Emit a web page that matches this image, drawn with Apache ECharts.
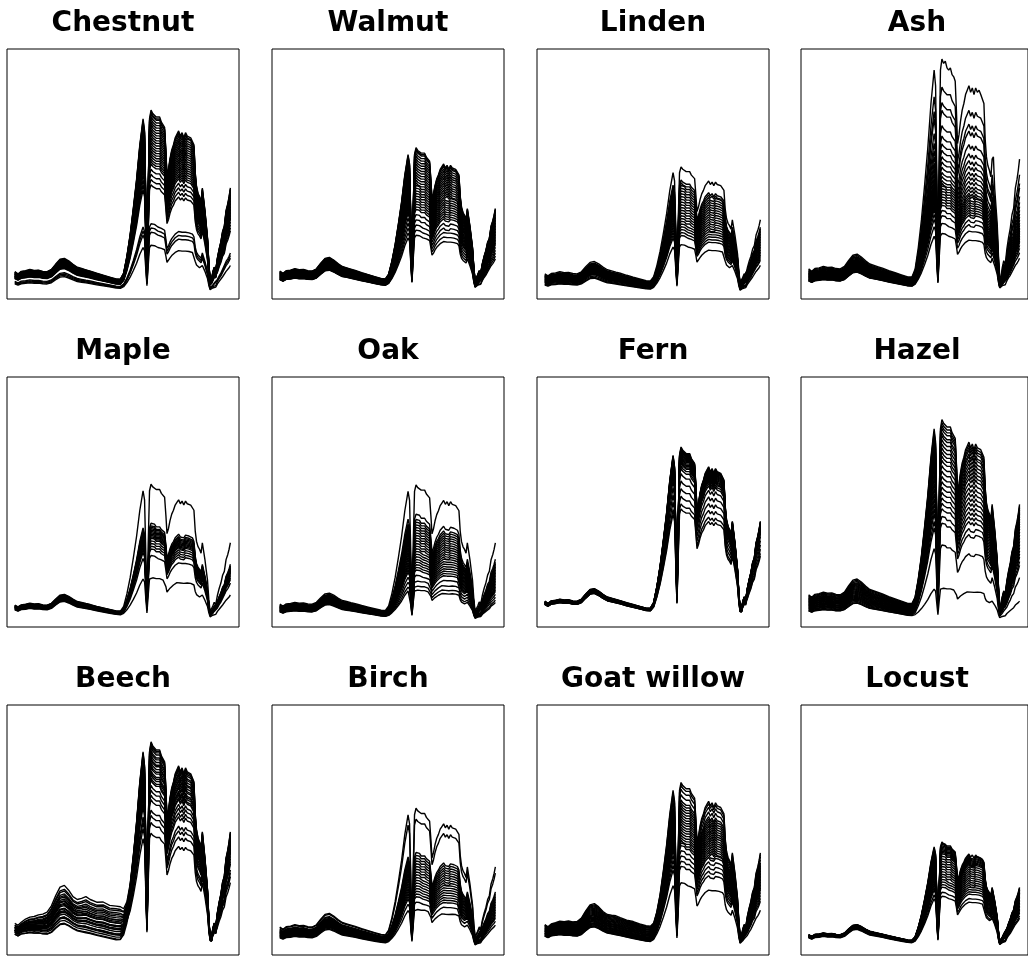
<!DOCTYPE html>
<html>
<head>
<meta charset="utf-8">
<script src="https://cdn.jsdelivr.net/npm/echarts@6/dist/echarts.min.js"></script>
<style>
  html, body { margin: 0; padding: 0; background: #fff; }
  #chart { width: 1028px; height: 956px; }
</style>
</head>
<body>
<div id="chart"></div>
<script>
// sampling positions along the spectrum (0 = first band, 100 = last band)
var wave = [0, 1.5, 3, 5, 7, 9, 11, 13, 15, 17,
  19, 21, 23, 25, 27, 29, 31, 33, 35, 38,
  41, 44, 47, 49, 50.5, 52, 53.5, 55, 56.5, 58,
  59.5, 60.2, 60.8, 61.3, 61.9, 62.5, 63.2, 64, 64.8, 65.6,
  66.4, 67.2, 68, 68.8, 69.5, 70.1, 70.6, 71.3, 72, 72.8,
  73.6, 74.4, 75.2, 76, 76.8, 77.6, 78.4, 79.2, 80, 80.8,
  81.6, 82.4, 83.1, 83.7, 84.3, 85, 85.7, 86.4, 87, 87.6,
  88.2, 88.8, 89.4, 90, 90.6, 91.2, 91.8, 92.5, 93.2, 94,
  94.8, 95.6, 96.4, 97.2, 98, 98.8, 99.4, 100];
// visible part of a typical leaf (box %)
var visShape = [8.6, 7.9, 8.7, 8.9, 9.3, 9.0, 9.1, 8.7, 8.6, 9.3,
  11.0, 12.5, 12.8, 12.0, 10.9, 10.0, 9.6, 9.2, 8.8, 8.1,
  7.5, 6.9, 6.3, 6.0, 6.0, 5.8, 5.5, 5.2, 5, 5,
  5, 5, 5, 5, 5, 5, 5, 5, 5, 5,
  5, 5, 5, 5, 5, 5, 5, 5, 5, 5,
  5, 5, 5, 5, 5, 5, 5, 5, 5, 5,
  5, 5, 5, 5, 5, 5, 5, 5, 5, 5,
  5, 5, 5, 4.8, 4.5, 4.3, 4.5, 4.6, 4.7, 4.8,
  4.9, 5, 5, 5, 5, 5, 5, 5];
// extra lift of the visible plateau (Beech, Goat willow)
var liftShape = [0.2, 0.2, 0.22, 0.28, 0.3, 0.33, 0.36, 0.4, 0.45, 0.55,
  0.68, 0.78, 0.8, 0.74, 0.66, 0.65, 0.7, 0.76, 0.72, 0.7,
  0.74, 0.7, 0.72, 0.7, 0.5, 0.22, 0.05, 0, 0, 0,
  0, 0, 0, 0, 0, 0, 0, 0, 0, 0,
  0, 0, 0, 0, 0, 0, 0, 0, 0, 0,
  0, 0, 0, 0, 0, 0, 0, 0, 0, 0,
  0, 0, 0, 0, 0, 0, 0, 0, 0, 0,
  0, 0, 0, 0, 0, 0, 0, 0, 0, 0,
  0, 0, 0, 0, 0, 0, 0, 0];
// near-infrared shape, 1 at the main peak
var nirShape = [0, 0, 0, 0, 0, 0, 0, 0, 0, 0,
  0, 0, 0, 0, 0, 0, 0, 0, 0, 0,
  0, 0, 0, 0.005, 0.04, 0.14, 0.27, 0.43, 0.6, 0.8,
  0.95, 0.88, 0.45, 0.1, 0.55, 0.95, 1.0, 0.98, 0.99, 0.96,
  0.95, 0.96, 0.93, 0.92, 0.9, 0.76, 0.62, 0.66, 0.72, 0.77,
  0.8, 0.84, 0.86, 0.88, 0.85, 0.87, 0.84, 0.87, 0.85, 0.86,
  0.84, 0.84, 0.8, 0.64, 0.56, 0.52, 0.5, 0.47, 0.55, 0.56,
  0.42, 0.34, 0.26, 0.12, 0.03, 0.02, 0.07, 0.1, 0.08, 0.15,
  0.2, 0.24, 0.3, 0.33, 0.42, 0.46, 0.5, 0.55];

var titles = ['Chestnut', 'Walmut', 'Linden', 'Ash', 'Maple', 'Oak',
  'Fern', 'Hazel', 'Beech', 'Birch', 'Goat willow', 'Locust'];

// per leaf: NIR peak height (box %) and visible level
var chestnutPeak = [74.2, 73.5, 73, 72, 71, 70, 69, 68, 67, 66, 65, 64, 63, 62, 61, 60, 59, 58, 57, 56, 55, 54, 52, 50, 48, 46, 31, 29.5, 28, 23];
var chestnutVis = [1.27, 1.25, 1.24, 1.22, 1.2, 1.19, 1.18, 1.16, 1.15, 1.14, 1.13, 1.12, 1.1, 1.09, 1.08, 1.07, 1.06, 1.05, 1.04, 1.02, 1.01, 1.0, 0.99, 0.98, 0.97, 0.95, 0.82, 0.78, 0.74, 0.7];
var walmutPeak = [59, 58.5, 58, 57, 56, 55, 54, 53, 52, 51, 50, 49, 48, 47, 46, 45, 44, 43, 42, 41, 40, 39, 38, 37, 36, 34, 32, 30, 28, 26];
var walmutVis = [1.3, 1.28, 1.27, 1.25, 1.24, 1.22, 1.21, 1.2, 1.18, 1.17, 1.15, 1.14, 1.12, 1.11, 1.1, 1.08, 1.07, 1.05, 1.04, 1.03, 1.01, 1.0, 0.99, 0.97, 0.96, 0.95, 0.93, 0.92, 0.91, 0.9];
var lindenPeak = [52, 47, 46, 45, 44, 43, 42, 41, 40, 39, 38, 37, 36, 35, 34, 33, 32, 31, 30, 29, 28, 27, 23.5];
var lindenVis = [1.17, 1.12, 1.1, 1.08, 1.06, 1.04, 1.02, 1.0, 0.98, 0.96, 0.94, 0.92, 0.9, 0.88, 0.86, 0.84, 0.82, 0.8, 0.78, 0.76, 0.72, 0.68, 0.65];
var ashPeak = [94, 83, 77, 74, 68, 64, 61, 58.5, 56, 54, 52, 50, 48.5, 47, 46, 45, 44, 43, 42, 41, 40, 39, 38, 36, 34, 31, 27];
var ashVis = [1.4, 1.36, 1.32, 1.3, 1.27, 1.24, 1.22, 1.2, 1.18, 1.16, 1.14, 1.12, 1.1, 1.08, 1.06, 1.04, 1.02, 1.0, 0.98, 0.96, 0.94, 0.92, 0.9, 0.88, 0.86, 0.85, 0.84];
var maplePeak = [57, 41.5, 40.5, 40, 39.5, 39, 38.5, 38, 37.5, 37, 36.5, 36, 35, 34, 33, 32, 29.5, 21];
var mapleVis = [1.02, 1.0, 0.99, 0.98, 0.97, 0.96, 0.95, 0.94, 0.93, 0.92, 0.91, 0.9, 0.89, 0.88, 0.86, 0.84, 0.82, 0.8];
var oakPeak = [56.5, 45, 43, 42, 41, 40, 39, 38, 37, 36, 35, 34, 33, 32, 31, 30, 29, 28, 27, 26, 25, 24, 22, 20, 18, 16.5];
var oakVis = [1.06, 1.02, 1.0, 0.99, 0.97, 0.96, 0.95, 0.93, 0.92, 0.91, 0.9, 0.88, 0.87, 0.86, 0.85, 0.83, 0.82, 0.8, 0.79, 0.78, 0.77, 0.76, 0.74, 0.73, 0.72, 0.7];
var fernPeak = [71, 70.7, 70.4, 70, 69.6, 69.2, 68.8, 68.4, 68, 67.5, 67, 66.5, 66, 65.5, 65, 64, 63, 61, 58, 55, 52, 49, 47];
var fernVis = [1.2, 1.19, 1.18, 1.18, 1.17, 1.16, 1.16, 1.15, 1.14, 1.14, 1.13, 1.12, 1.12, 1.11, 1.1, 1.1, 1.09, 1.08, 1.08, 1.07, 1.06, 1.05, 1.05];
var hazelPeak = [80.5, 79.5, 78.5, 77.5, 76, 75, 73.5, 72, 70.5, 69, 67.5, 66, 64, 62, 60, 58, 56, 54, 52, 50, 48, 45, 42.5, 34, 17];
var hazelVis = [1.5, 1.46, 1.42, 1.38, 1.35, 1.32, 1.29, 1.26, 1.23, 1.2, 1.17, 1.14, 1.11, 1.08, 1.05, 1.02, 0.99, 0.96, 0.93, 0.9, 0.87, 0.84, 0.8, 0.76, 0.75];
var beechPeak = [85, 84.5, 84, 83, 82, 81, 80, 79, 78, 77, 76, 75, 74, 73, 72, 71, 70, 68, 66, 64, 62, 58, 56, 53, 49];
var beechVis = [1.05, 1.04, 1.0, 1.03, 0.98, 1.02, 1.0, 0.97, 1.04, 1.01, 0.99, 1.03, 0.96, 1.0, 1.02, 0.98, 1.01, 0.97, 1.0, 0.99, 1.03, 0.98, 0.96, 1.0, 0.95];
var beechLift = [18, 5, 16, 2.5, 14, 9, 12, 0, 10.5, 7, 17, 4, 8, 13, 1, 11, 6, 15, 3, 10, 2, 7.5, 0.5, 5.5, 9.5];
var birchPeak = [57.2, 53, 40, 39, 38, 37, 36, 35, 34, 33, 32, 31, 30, 29, 28, 27, 26, 25, 24, 22, 19.5];
var birchVis = [1.3, 1.27, 1.2, 1.17, 1.14, 1.12, 1.1, 1.08, 1.06, 1.04, 1.02, 1.0, 0.98, 0.96, 0.94, 0.92, 0.9, 0.88, 0.86, 0.83, 0.8];
var willowPeak = [67.5, 66.5, 65, 63, 61, 60, 59, 58, 57, 56, 55, 54, 53, 52, 51, 50, 49, 48, 47, 46, 45, 44, 42, 40, 38, 36, 29.5];
var willowVis = [1.3, 1.28, 1.26, 1.24, 1.22, 1.2, 1.18, 1.16, 1.14, 1.12, 1.1, 1.09, 1.08, 1.06, 1.05, 1.04, 1.02, 1.0, 0.99, 0.98, 0.96, 0.95, 0.94, 0.92, 0.9, 0.89, 0.88];
var willowLift = [4.9, 4.6, 4.4, 4.2, 4, 3.8, 3.6, 3.4, 3.2, 3, 2.8, 2.6, 2.4, 2.2, 2, 1.8, 1.6, 1.4, 1.2, 1, 0.8, 0.6, 0.5, 0.4, 0.2, 0.1, 0];
var locustPeak = [45.5, 45, 44.5, 44, 43.5, 43, 42.5, 42, 41.5, 41, 40, 39, 38, 37, 36, 35, 34, 33, 32, 31, 30, 29, 28, 26, 24.5];
var locustVis = [0.95, 0.94, 0.94, 0.93, 0.93, 0.92, 0.92, 0.91, 0.91, 0.9, 0.9, 0.89, 0.89, 0.88, 0.88, 0.87, 0.87, 0.86, 0.86, 0.85, 0.85, 0.84, 0.83, 0.82, 0.8];

var panels = [
  {peak: chestnutPeak, vis: chestnutVis},
  {peak: walmutPeak, vis: walmutVis},
  {peak: lindenPeak, vis: lindenVis},
  {peak: ashPeak, vis: ashVis},
  {peak: maplePeak, vis: mapleVis},
  {peak: oakPeak, vis: oakVis},
  {peak: fernPeak, vis: fernVis},
  {peak: hazelPeak, vis: hazelVis},
  {peak: beechPeak, vis: beechVis, lift: beechLift},
  {peak: birchPeak, vis: birchVis},
  {peak: willowPeak, vis: willowVis, lift: willowLift},
  {peak: locustPeak, vis: locustVis}
];

var colLeft = [7, 272, 537, 801];
var rowTop = [49, 377, 705];
var boxW = 232, boxH = 250;

var grids = [], xAxes = [], yAxes = [], series = [], graphics = [];
panels.forEach(function (p, k) {
  var col = k % 4, row = Math.floor(k / 4);
  grids.push({
    left: colLeft[col], top: rowTop[row], width: boxW, height: boxH,
    show: true, borderColor: '#000', borderWidth: 1, backgroundColor: 'transparent'
  });
  xAxes.push({type: 'value', gridIndex: k, min: -3.6, max: 104, show: false});
  yAxes.push({type: 'value', gridIndex: k, min: 0, max: 100, show: false});
  graphics.push({
    type: 'text',
    x: colLeft[col] + boxW / 2,
    y: rowTop[row] - 25,
    style: {
      text: titles[k],
      fill: '#000',
      font: 'bold 28px "DejaVu Sans"',
      textAlign: 'center', textVerticalAlign: 'middle',
      align: 'center', verticalAlign: 'middle'
    }
  });
  p.peak.forEach(function (pk, j) {
    var v = p.vis[j];
    var w = p.lift ? p.lift[j] : 0;
    var data = wave.map(function (t, i) {
      return [t, +(v * visShape[i] + w * liftShape[i] + (pk - 5) * nirShape[i]).toFixed(2)];
    });
    series.push({
      type: 'line',
      xAxisIndex: k, yAxisIndex: k,
      data: data,
      symbol: 'none',
      silent: true,
      lineStyle: {color: '#000', width: 1.4}
    });
  });
});

var myChart = echarts.init(document.getElementById('chart'));
myChart.setOption({
  animation: false,
  backgroundColor: '#fff',
  grid: grids,
  xAxis: xAxes,
  yAxis: yAxes,
  series: series,
  graphic: graphics
});
</script>
</body>
</html>
